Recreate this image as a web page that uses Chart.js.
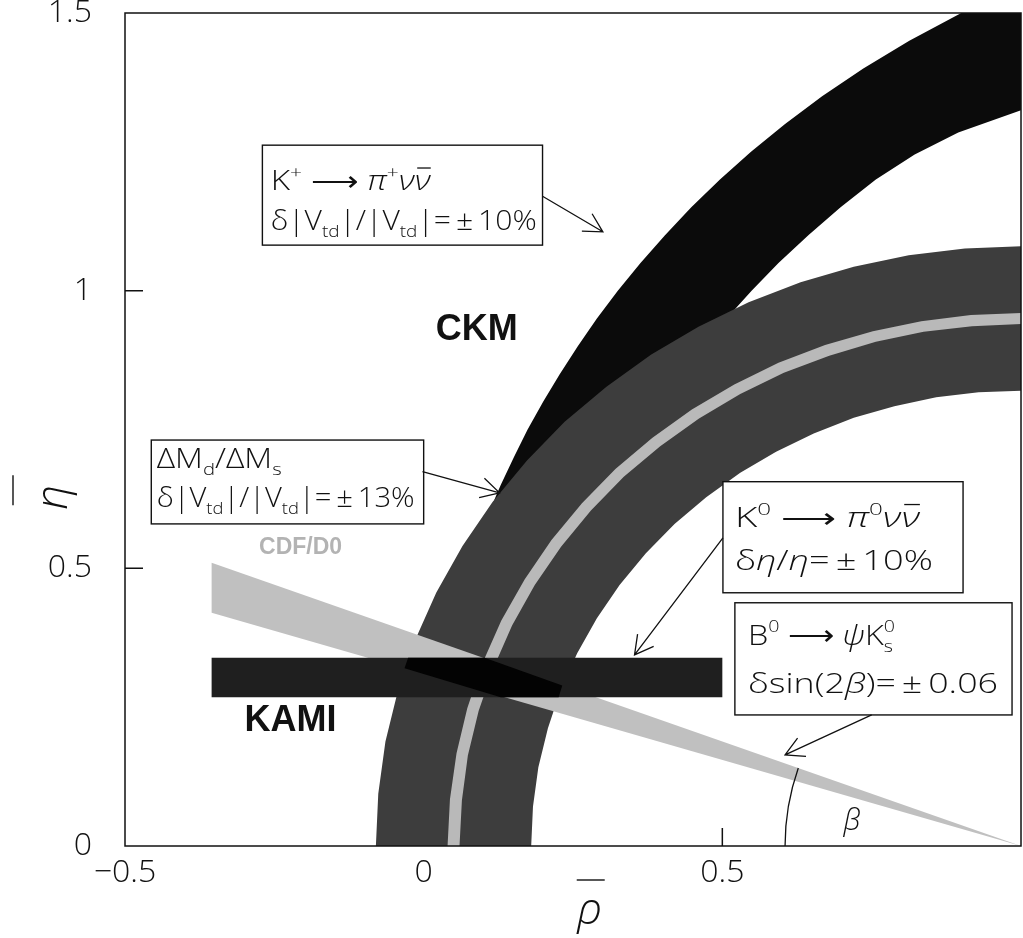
<!DOCTYPE html>
<html>
<head>
<meta charset="utf-8">
<script src="https://cdn.jsdelivr.net/npm/chart.js@4/dist/chart.umd.min.js"></script>
<style>
html, body { margin: 0; padding: 0; background: #fff; }
#wrap { width: 1023px; height: 938px; }
</style>
</head>
<body>
<div id="wrap"><canvas id="c" width="1023" height="938"></canvas></div>
<script>
// axis ticks (the label at 1 falls off the right edge)
var xTicks = [-0.5, 0, 0.5, 1];
var yTicks = [0, 0.5, 1, 1.5];

// K+ -> pi+ nu nubar band (black), both edges from bottom to top
var kpOuterX = [0.091, 0.109, 0.129, 0.151, 0.174, 0.200, 0.228, 0.258, 0.290, 0.325, 0.363, 0.404, 0.448, 0.496, 0.548, 0.605, 0.667, 0.736, 0.813, 0.900, 1.0];
var kpOuterY = [0.55, 0.60, 0.65, 0.70, 0.75, 0.80, 0.85, 0.90, 0.95, 1.00, 1.05, 1.10, 1.15, 1.20, 1.25, 1.30, 1.35, 1.40, 1.45, 1.50, 1.50];
var kpInnerX = [0.278, 0.298, 0.320, 0.345, 0.372, 0.402, 0.434, 0.469, 0.507, 0.549, 0.594, 0.644, 0.698, 0.757, 0.822, 0.895, 1.0];
var kpInnerY = [0.55, 0.60, 0.65, 0.70, 0.75, 0.80, 0.85, 0.90, 0.95, 1.00, 1.05, 1.10, 1.15, 1.20, 1.245, 1.285, 1.325];

// dM_d/dM_s band (dark grey)
var dmOuterX = [-0.080, -0.076, -0.064, -0.043, -0.015, 0.021, 0.065, 0.115, 0.173, 0.236, 0.306, 0.381, 0.460, 0.544, 0.631, 0.720, 0.812, 0.906, 1.0];
var dmOuterY = [0, 0.094, 0.188, 0.280, 0.369, 0.456, 0.540, 0.619, 0.694, 0.764, 0.827, 0.885, 0.935, 0.979, 1.015, 1.043, 1.064, 1.076, 1.080];
var dmInnerX = [0.180, 0.183, 0.192, 0.208, 0.229, 0.257, 0.290, 0.328, 0.372, 0.420, 0.473, 0.530, 0.590, 0.653, 0.720, 0.788, 0.858, 0.929, 1.0];
var dmInnerY = [0, 0.071, 0.142, 0.212, 0.280, 0.347, 0.410, 0.470, 0.527, 0.580, 0.628, 0.672, 0.710, 0.743, 0.771, 0.792, 0.808, 0.817, 0.820];

// light central line of the dM band
var midOuterX = [0.040, 0.044, 0.055, 0.073, 0.098, 0.130, 0.169, 0.214, 0.265, 0.321, 0.383, 0.449, 0.520, 0.594, 0.672, 0.752, 0.833, 0.916, 1.0];
var midOuterY = [0, 0.084, 0.167, 0.248, 0.328, 0.406, 0.480, 0.551, 0.617, 0.679, 0.735, 0.786, 0.831, 0.870, 0.902, 0.927, 0.945, 0.956, 0.960];
var midInnerX = [0.060, 0.064, 0.074, 0.092, 0.117, 0.148, 0.186, 0.230, 0.280, 0.335, 0.396, 0.461, 0.530, 0.603, 0.679, 0.757, 0.837, 0.918, 1.0];
var midInnerY = [0, 0.082, 0.163, 0.243, 0.321, 0.397, 0.470, 0.539, 0.604, 0.665, 0.720, 0.770, 0.814, 0.852, 0.883, 0.908, 0.926, 0.936, 0.940];

// CDF/D0 sin(2beta) wedge
var cdfX = [-0.355, 1.0, -0.355];
var cdfY = [0.510, 0.0, 0.420];

// KAMI bar
var kamiX = [-0.355, 0.5];
var kamiY = [0.268, 0.339];

// where KAMI, CDF/D0 and dM all overlap (black)
var overlapX = [-0.026, 0.102, 0.232, 0.226, 0.129, -0.032];
var overlapY = [0.339, 0.339, 0.289, 0.268, 0.268, 0.320];

var sans = '"Open Sans", "DejaVu Sans", sans-serif';

function pts(xs, ys) {
	var out = [];
	for (var i = 0; i < xs.length; i++) out.push({x: xs[i], y: ys[i]});
	return out;
}
function ring(ox, oy, ix, iy) {
	return pts(ox, oy).concat(pts(ix, iy).reverse());
}
function rect(xs, ys) {
	return [{x: xs[0], y: ys[0]}, {x: xs[1], y: ys[0]}, {x: xs[1], y: ys[1]}, {x: xs[0], y: ys[1]}];
}
function band(data, color, order) {
	return {data: data, backgroundColor: color, borderWidth: 0, fill: 'shape', pointRadius: 0, order: order};
}

// text boxes, in data units
var boxes = [
	{x0: -0.270, x1: 0.199, y0: 1.262, y1: 1.082, tx: -0.256, size: 27, lines: [
		{y: 1.181, w: 160, parts: [{t: 'K'}, {t: '+', sup: 1}, {t: ' \u27F6 '}, {t: 'π', g: 1}, {t: '+', sup: 1}, {t: 'ν', g: 1}, {t: 'ν', g: 1, bar: 1}]},
		{y: 1.109, w: 266, parts: [{t: 'δ|V'}, {t: 'td', sub: 1}, {t: '|/|V'}, {t: 'td', sub: 1}, {t: '|=\u2009±\u200910%'}]}
	]},
	{x0: -0.456, x1: 0.0, y0: 0.731, y1: 0.580, tx: -0.447, size: 27, lines: [
		{y: 0.681, w: 125, parts: [{t: 'ΔM'}, {t: 'd', sub: 1}, {t: '/ΔM'}, {t: 's', sub: 1}]},
		{y: 0.610, w: 258, parts: [{t: 'δ|V'}, {t: 'td', sub: 1}, {t: '|/|V'}, {t: 'td', sub: 1}, {t: '|=\u2009±\u200913%'}]}
	]},
	{x0: 0.501, x1: 0.903, y0: 0.656, y1: 0.456, tx: 0.521, size: 27, lines: [
		{y: 0.575, w: 185, parts: [{t: 'K'}, {t: '0', sup: 1}, {t: ' \u27F6 '}, {t: 'π', g: 1}, {t: '0', sup: 1}, {t: 'ν', g: 1}, {t: 'ν', g: 1, bar: 1}]},
		{y: 0.497, w: 198, parts: [{t: 'δ'}, {t: 'η', g: 1}, {t: '/'}, {t: 'η', g: 1}, {t: '=\u2009±\u200910%'}]}
	]},
	{x0: 0.521, x1: 0.985, y0: 0.438, y1: 0.236, tx: 0.543, size: 28, lines: [
		{y: 0.362, w: 145, parts: [{t: 'B'}, {t: '0', sup: 1}, {t: ' \u27F6 '}, {t: 'ψ', g: 1}, {t: 'K'}, {t: '0', sup: 1, stack: 1}, {t: 's', sub: 1}]},
		{y: 0.276, w: 250, parts: [{t: 'δsin(2'}, {t: 'β', g: 1}, {t: ')=\u2009±\u20090.06'}]}
	]}
];
var arrows = [
	[0.199, 1.170, 0.300, 1.106],
	[-0.002, 0.674, 0.127, 0.636],
	[0.501, 0.555, 0.353, 0.344],
	[0.750, 0.236, 0.605, 0.164]
];

function partFont(p, size) {
	var s = (p.sup || p.sub) ? Math.round(size * 0.62) : size;
	return (p.g ? 'italic 300 ' : '300 ') + s + 'px ' + sans;
}
function drawRich(ctx, parts, x, y, size, targetW) {
	var total = 0, widths = [];
	for (var i = 0; i < parts.length; i++) {
		ctx.font = partFont(parts[i], size);
		widths.push(ctx.measureText(parts[i].t).width);
		if (!parts[i].stack) total += widths[i];
	}
	var sx = targetW ? targetW / total : 1;
	ctx.save();
	ctx.translate(x, y);
	ctx.scale(sx, 1);
	ctx.fillStyle = '#111';
	ctx.textBaseline = 'alphabetic';
	ctx.textAlign = 'left';
	var cx = 0;
	for (var j = 0; j < parts.length; j++) {
		var p = parts[j];
		var dy = p.sup ? -size * 0.45 : (p.sub ? size * 0.25 : 0);
		ctx.font = partFont(p, size);
		ctx.fillText(p.t, cx, dy);
		if (p.bar) {
			ctx.strokeStyle = '#111';
			ctx.lineWidth = 1.3;
			ctx.beginPath();
			ctx.moveTo(cx + 2, -size * 0.82);
			ctx.lineTo(cx + widths[j], -size * 0.82);
			ctx.stroke();
		}
		if (!p.stack) cx += widths[j];
	}
	ctx.restore();
}
function drawArrow(ctx, x0, y0, x1, y1) {
	var a = Math.atan2(y1 - y0, x1 - x0), len = 21, spread = 0.5;
	ctx.beginPath();
	ctx.moveTo(x0, y0);
	ctx.lineTo(x1, y1);
	ctx.moveTo(x1 - len * Math.cos(a - spread), y1 - len * Math.sin(a - spread));
	ctx.lineTo(x1, y1);
	ctx.lineTo(x1 - len * Math.cos(a + spread), y1 - len * Math.sin(a + spread));
	ctx.stroke();
}

var decor = {
	id: 'decor',
	beforeDatasetsDraw: function(chart) {
		var ctx = chart.ctx, x = chart.scales.x, y = chart.scales.y, a = chart.chartArea;
		ctx.save();
		ctx.strokeStyle = '#111';
		ctx.lineWidth = 1.5;
		ctx.beginPath();
		yTicks.forEach(function(v) {
			if (v <= y.min || v >= y.max) return;
			var py = y.getPixelForValue(v);
			ctx.moveTo(a.left, py); ctx.lineTo(a.left + 18, py);
		});
		xTicks.forEach(function(v) {
			if (v <= x.min || v >= x.max) return;
			var px = x.getPixelForValue(v);
			ctx.moveTo(px, a.bottom); ctx.lineTo(px, a.bottom - 18);
		});
		ctx.stroke();
		ctx.restore();
	},
	afterDatasetsDraw: function(chart) {
		var ctx = chart.ctx, x = chart.scales.x, y = chart.scales.y, a = chart.chartArea;
		ctx.save();
		// frame
		ctx.strokeStyle = '#111';
		ctx.lineWidth = 1.5;
		ctx.strokeRect(a.left, a.top, a.right - a.left, a.bottom - a.top);

		// beta angle
		var cx = x.getPixelForValue(1), cy = y.getPixelForValue(0);
		var r = cx - x.getPixelForValue(0.605);
		var ang = Math.atan2(cy - y.getPixelForValue(cdfY[0]), cx - x.getPixelForValue(cdfX[0]));
		ctx.lineWidth = 1.3;
		ctx.beginPath();
		ctx.arc(cx, cy, r, Math.PI, Math.PI + ang);
		ctx.stroke();
		ctx.fillStyle = '#111';
		ctx.textAlign = 'center';
		ctx.textBaseline = 'middle';
		ctx.font = 'italic 300 29px ' + sans;
		ctx.fillText('β', x.getPixelForValue(0.717), y.getPixelForValue(0.043));

		// band names
		ctx.font = 'bold 36px "Liberation Sans", Arial, sans-serif';
		ctx.fillText('CKM', x.getPixelForValue(0.089), y.getPixelForValue(0.929));
		ctx.fillText('KAMI', x.getPixelForValue(-0.223), y.getPixelForValue(0.225));
		ctx.fillStyle = '#b3b3b3';
		ctx.font = 'bold 23px "Liberation Sans", Arial, sans-serif';
		ctx.fillText('CDF/D0', x.getPixelForValue(-0.206), y.getPixelForValue(0.537));

		// boxes and arrows
		for (var i = 0; i < boxes.length; i++) {
			var b = boxes[i];
			var l = x.getPixelForValue(b.x0), rr = x.getPixelForValue(b.x1);
			var t = y.getPixelForValue(b.y0), bt = y.getPixelForValue(b.y1);
			ctx.fillStyle = '#fff';
			ctx.fillRect(l, t, rr - l, bt - t);
			ctx.strokeStyle = '#111';
			ctx.lineWidth = 1.4;
			ctx.strokeRect(l, t, rr - l, bt - t);
			for (var j = 0; j < b.lines.length; j++) {
				var ln = b.lines[j];
				drawRich(ctx, ln.parts, x.getPixelForValue(b.tx), y.getPixelForValue(ln.y), b.size, ln.w);
			}
		}
		ctx.strokeStyle = '#111';
		ctx.lineWidth = 1.3;
		for (var k = 0; k < arrows.length; k++) {
			var ar = arrows[k];
			drawArrow(ctx, x.getPixelForValue(ar[0]), y.getPixelForValue(ar[1]), x.getPixelForValue(ar[2]), y.getPixelForValue(ar[3]));
		}

		// axis titles: rho-bar and eta-bar
		ctx.fillStyle = '#111';
		ctx.strokeStyle = '#111';
		ctx.lineWidth = 1.4;
		var rx = x.getPixelForValue(0.278);
		ctx.beginPath();
		ctx.moveTo(rx - 13, a.bottom + 34); ctx.lineTo(rx + 15, a.bottom + 34);
		ctx.stroke();
		ctx.font = 'italic 300 44px ' + sans;
		ctx.textAlign = 'center';
		ctx.textBaseline = 'alphabetic';
		ctx.fillText('ρ', rx, a.bottom + 78);
		var ey = y.getPixelForValue(0.628);
		ctx.beginPath();
		ctx.moveTo(13, ey - 22); ctx.lineTo(13, ey + 8);
		ctx.stroke();
		ctx.translate(54, ey);
		ctx.rotate(-Math.PI / 2);
		ctx.textBaseline = 'middle';
		ctx.fillText('η', 0, 0);
		ctx.restore();
	}
};

var tickFont = {family: sans, size: 32, weight: '300'};

new Chart(document.getElementById('c'), {
	type: 'line',
	data: {
		datasets: [
			band(ring(kpOuterX, kpOuterY, kpInnerX, kpInnerY), '#0b0b0b', 6),
			band(ring(dmOuterX, dmOuterY, dmInnerX, dmInnerY), '#3d3d3d', 5),
			band(ring(midOuterX, midOuterY, midInnerX, midInnerY), '#b9b9b9', 4),
			band(pts(cdfX, cdfY), '#c0c0c0', 3),
			band(rect(kamiX, kamiY), '#1f1f1f', 2),
			band(pts(overlapX, overlapY), '#030303', 1)
		]
	},
	options: {
		responsive: false,
		animation: false,
		devicePixelRatio: 1,
		layout: {padding: {left: 0, right: 2, top: 13, bottom: 0}},
		plugins: {legend: {display: false}, tooltip: {enabled: false}},
		elements: {line: {tension: 0, borderWidth: 0}, point: {radius: 0}},
		scales: {
			x: {
				type: 'linear', min: -0.5, max: 1,
				afterBuildTicks: function(s) { s.ticks = xTicks.map(function(v) { return {value: v}; }); },
				ticks: {font: tickFont, color: '#111', padding: 8, maxRotation: 0, autoSkip: false,
					callback: function(v) { return v >= 1 ? '' : String(v).replace('-', '\u2212'); }},
				grid: {display: false, drawTicks: false},
				border: {display: false},
				afterFit: function(s) { s.height = 92; s.paddingLeft = 0; s.paddingRight = 0; }
			},
			y: {
				type: 'linear', min: 0, max: 1.5,
				afterBuildTicks: function(s) { s.ticks = yTicks.map(function(v) { return {value: v}; }); },
				ticks: {font: tickFont, color: '#111', padding: 33, autoSkip: false,
					callback: function(v) { return String(v); }},
				grid: {display: false, drawTicks: false},
				border: {display: false},
				afterFit: function(s) { s.width = 125; s.paddingTop = 0; s.paddingBottom = 0; }
			}
		}
	},
	plugins: [decor]
});
</script>
</body>
</html>
